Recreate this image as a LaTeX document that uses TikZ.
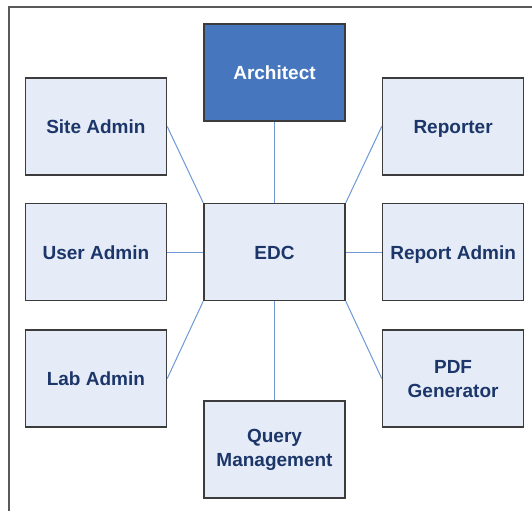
\documentclass[tikz,border=0pt]{standalone}
\usepackage{fontspec}
\setmainfont{Liberation Sans}
\usepackage{xcolor}
\usetikzlibrary{positioning}

\definecolor{boxfill}{RGB}{230,236,247}
\definecolor{boxtext}{RGB}{28,54,106}
\definecolor{archfill}{RGB}{70,119,190}
\definecolor{boxline}{RGB}{60,60,60}
\definecolor{linkline}{RGB}{110,152,214}
\definecolor{frameline}{RGB}{90,90,90}

\begin{document}
\begin{tikzpicture}[
            x=1pt, y=1pt,
            node distance=27pt and 36pt,
            module/.style={draw=boxline, line width=1.6pt, fill=boxfill,
                text=boxtext, minimum width=141pt, minimum height=97pt,
                inner sep=0pt, align=center,
                font=\fontsize{19}{24}\selectfont\bfseries},
            oneline/.style={text height=14pt, text depth=0pt},
            link/.style={draw=linkline, line width=1pt}
        ]
        \useasboundingbox (0,0) rectangle (532,-511);
        \draw[frameline, line width=1.8pt] (9,-511) -- (9,-7) -- (532,-7);

        \node[module, oneline] (edc) at (274.5,-252) {EDC};
        \node[module, oneline, left=of edc] (useradmin) {User Admin};
        \node[module, oneline, above=of useradmin] (siteadmin) {Site Admin};
        \node[module, oneline, below=28pt of useradmin] (labadmin) {Lab Admin};
        \node[module, oneline, right=of edc] (reportadmin) {Report Admin};
        \node[module, oneline, above=of reportadmin] (reporter) {Reporter};
        \node[module, below=28pt of reportadmin] (pdfgen) {PDF\\Generator};
        \node[module, oneline, fill=archfill, text=white, above=81pt of edc] (architect) {Architect};
        \node[module, below=99pt of edc] (query) {Query\\Management};

        \draw[link] (architect) -- (edc);
        \draw[link] (query) -- (edc);
        \draw[link] (siteadmin.east) -- (edc.north west);
        \draw[link] (useradmin.east) -- (edc.west);
        \draw[link] (labadmin.east) -- (edc.south west);
        \draw[link] (reporter.west) -- (edc.north east);
        \draw[link] (reportadmin.west) -- (edc.east);
        \draw[link] (pdfgen.west) -- (edc.south east);
    \end{tikzpicture}
\end{document}
